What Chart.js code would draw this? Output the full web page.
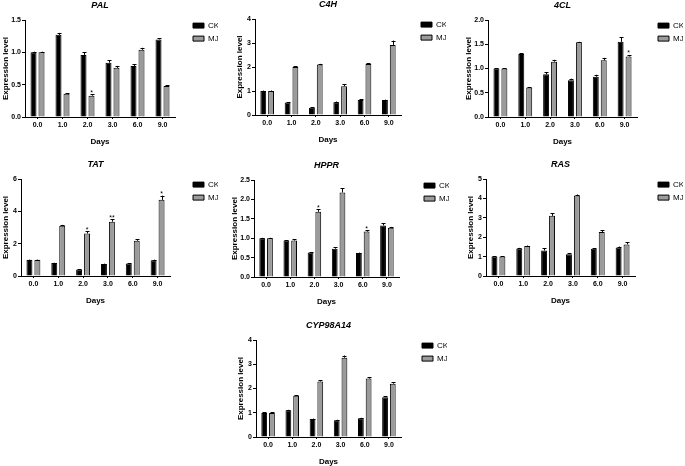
<!DOCTYPE html>
<html>
<head>
<meta charset="utf-8">
<script src="https://cdn.jsdelivr.net/npm/chart.js@4.4.1/dist/chart.umd.min.js"></script>
<style>
html,body{margin:0;padding:0;background:#fff;width:685px;height:466px;overflow:hidden;position:relative;}
canvas{position:absolute;}
</style>
</head>
<body>
<script>
// ---- data ----
const days = ['0.0', '1.0', '2.0', '3.0', '6.0', '9.0'];
const seriesNames = ['CK', 'MJ'];

const palCK = [1.00, 1.27, 0.96, 0.84, 0.79, 1.20];
const palCKErr = [0.01, 0.03, 0.04, 0.04, 0.03, 0.02];
const palMJ = [1.00, 0.36, 0.33, 0.76, 1.04, 0.48];
const palMJErr = [0.01, 0.01, 0.02, 0.03, 0.03, 0.01];
const palMJSig = ['', '', '*', '', '', ''];

const c4hCK = [1.00, 0.52, 0.30, 0.53, 0.63, 0.62];
const c4hCKErr = [0.02, 0.02, 0.02, 0.03, 0.02, 0.02];
const c4hMJ = [1.00, 2.00, 2.10, 1.20, 2.12, 2.92];
const c4hMJErr = [0.02, 0.03, 0.03, 0.09, 0.03, 0.18];
const c4hMJSig = ['', '', '', '', '', ''];

const cl4CK = [1.00, 1.30, 0.88, 0.76, 0.83, 1.55];
const cl4CKErr = [0.01, 0.02, 0.04, 0.03, 0.04, 0.09];
const cl4MJ = [1.00, 0.61, 1.14, 1.54, 1.17, 1.25];
const cl4MJErr = [0.01, 0.01, 0.04, 0.01, 0.05, 0.03];
const cl4MJSig = ['', '', '', '', '', '*'];

const tatCK = [1.00, 0.80, 0.40, 0.75, 0.77, 0.98];
const tatCKErr = [0.02, 0.02, 0.02, 0.02, 0.02, 0.03];
const tatMJ = [1.00, 3.11, 2.63, 3.36, 2.18, 4.71];
const tatMJErr = [0.02, 0.05, 0.13, 0.15, 0.09, 0.26];
const tatMJSig = ['', '', '*', '**', '', '*'];

const hpprCK = [1.00, 0.94, 0.63, 0.73, 0.62, 1.33];
const hpprCKErr = [0.01, 0.01, 0.01, 0.04, 0.01, 0.05];
const hpprMJ = [1.00, 0.94, 1.68, 2.18, 1.17, 1.27];
const hpprMJErr = [0.01, 0.04, 0.06, 0.11, 0.04, 0.02];
const hpprMJSig = ['', '', '*', '', '*', ''];

const rasCK = [1.00, 1.42, 1.31, 1.12, 1.40, 1.47];
const rasCKErr = [0.01, 0.03, 0.12, 0.05, 0.04, 0.05];
const rasMJ = [1.00, 1.54, 3.10, 4.15, 2.27, 1.63];
const rasMJErr = [0.02, 0.03, 0.13, 0.05, 0.08, 0.12];
const rasMJSig = ['', '', '', '', '', ''];

const cypCK = [0.99, 1.10, 0.74, 0.69, 0.77, 1.64];
const cypCKErr = [0.03, 0.02, 0.02, 0.02, 0.02, 0.05];
const cypMJ = [0.99, 1.70, 2.29, 3.27, 2.41, 2.20];
const cypMJErr = [0.03, 0.03, 0.04, 0.09, 0.05, 0.05];
const cypMJSig = ['', '', '', '', '', ''];

// y-axis settings per gene: [max, step, decimals]
const palAxis = [1.5, 0.5, 1];
const c4hAxis = [4, 1, 0];
const cl4Axis = [2.0, 0.5, 1];
const tatAxis = [6, 2, 0];
const hpprAxis = [2.5, 0.5, 1];
const rasAxis = [5, 1, 0];
const cypAxis = [4, 1, 0];

// ---- layout (plot area positions in page) ----
const panels = [
  {title: 'PAL', ck: palCK, ckErr: palCKErr, mj: palMJ, mjErr: palMJErr, sig: palMJSig, axis: palAxis,
   axisX: 25, top: 20, bottom: 117, right: 175, legendBox: 193, yW: 24},
  {title: 'C4H', ck: c4hCK, ckErr: c4hCKErr, mj: c4hMJ, mjErr: c4hMJErr, sig: c4hMJSig, axis: c4hAxis,
   axisX: 255, top: 19, bottom: 115, right: 401, legendBox: 421, yW: 20},
  {title: '4CL', ck: cl4CK, ckErr: cl4CKErr, mj: cl4MJ, mjErr: cl4MJErr, sig: cl4MJSig, axis: cl4Axis,
   axisX: 488, top: 20, bottom: 117, right: 637, legendBox: 658, yW: 24},
  {title: 'TAT', ck: tatCK, ckErr: tatCKErr, mj: tatMJ, mjErr: tatMJErr, sig: tatMJSig, axis: tatAxis,
   axisX: 21, top: 179, bottom: 276, right: 170, legendBox: 193, yW: 20},
  {title: 'HPPR', ck: hpprCK, ckErr: hpprCKErr, mj: hpprMJ, mjErr: hpprMJErr, sig: hpprMJSig, axis: hpprAxis,
   axisX: 254, top: 180, bottom: 277, right: 399, legendBox: 424, yW: 24},
  {title: 'RAS', ck: rasCK, ckErr: rasCKErr, mj: rasMJ, mjErr: rasMJErr, sig: rasMJSig, axis: rasAxis,
   axisX: 486, top: 179, bottom: 276, right: 635, legendBox: 658, yW: 20},
  {title: 'CYP98A14', ck: cypCK, ckErr: cypCKErr, mj: cypMJ, mjErr: cypMJErr, sig: cypMJSig, axis: cypAxis,
   axisX: 256, top: 340, bottom: 437, right: 401, legendBox: 422, yW: 20}
];

const FONT = "'Liberation Sans', Arial, sans-serif";
const TOP_H = 20, X_H = 30, PAD_R = 25, LEG_W = 30, LEG_PAD = 5;

const extrasPlugin = {
  id: 'extras',
  afterLayout(chart) {
    const o = chart.options.plugins.extras;
    const lg = chart.legend;
    if (lg) {
      const wantLeft = chart.chartArea.right + o.legendGap - LEG_PAD;
      const dx = wantLeft - lg.left;
      lg.left += dx; lg.right += dx;
      const wantTop = chart.chartArea.top + 5.6 - LEG_PAD - 4;
      const dy = wantTop - lg.top;
      lg.top += dy; lg.bottom += dy;
    }
  },
  afterDatasetsDraw(chart) {
    const o = chart.options.plugins.extras;
    const ctx = chart.ctx;
    const ys = chart.scales.y;
    ctx.save();
    ctx.strokeStyle = '#000';
    ctx.lineWidth = 1;
    chart.data.datasets.forEach((ds, di) => {
      const meta = chart.getDatasetMeta(di);
      const errs = o.errors[di];
      const sig = o.sigs[di];
      meta.data.forEach((el, i) => {
        const v = ds.data[i];
        const yTop = ys.getPixelForValue(v + errs[i]);
        const x = Math.round(el.x) + 0.5;
        ctx.beginPath();
        ctx.moveTo(x, el.y);
        ctx.lineTo(x, yTop);
        ctx.moveTo(x - 2, Math.round(yTop) + 0.5);
        ctx.lineTo(x + 2, Math.round(yTop) + 0.5);
        ctx.stroke();
        if (sig && sig[i]) {
          ctx.fillStyle = '#000';
          ctx.font = '7px ' + FONT;
          ctx.textAlign = 'center';
          ctx.textBaseline = 'alphabetic';
          ctx.fillText(sig[i], el.x, yTop + 0.5);
        }
      });
    });
    ctx.restore();
  }
};

panels.forEach(p => {
  const canvas = document.createElement('canvas');
  const left = p.axisX - p.yW;
  const top = p.top - TOP_H;
  const w = (p.right - left) + PAD_R + LEG_W;
  const h = TOP_H + (p.bottom - p.top) + X_H;
  canvas.width = w; canvas.height = h;
  canvas.style.left = left + 'px';
  canvas.style.top = top + 'px';
  canvas.style.width = w + 'px';
  canvas.style.height = h + 'px';
  document.body.appendChild(canvas);

  const [ymax, ystep, dec] = p.axis;
  const yW = p.yW;

  new Chart(canvas, {
    type: 'bar',
    data: {
      labels: days,
      datasets: [
        {label: seriesNames[0], data: p.ck, backgroundColor: '#000', borderColor: '#000', borderWidth: 1,
         categoryPercentage: 0.64, barPercentage: 0.75},
        {label: seriesNames[1], data: p.mj, backgroundColor: '#9b9b9b', borderColor: '#000', borderWidth: 1,
         categoryPercentage: 0.64, barPercentage: 0.75}
      ]
    },
    options: {
      responsive: false,
      animation: false,
      devicePixelRatio: 1,
      layout: {padding: {top: 0, left: 0, right: PAD_R, bottom: 0}},
      plugins: {
        title: {
          display: true, text: p.title, fullSize: false, color: '#000',
          font: {family: FONT, size: 9, weight: 'bold', style: 'italic'},
          padding: {top: 0, bottom: TOP_H - 10.8}
        },
        legend: {
          display: true, position: 'right', align: 'start', maxWidth: LEG_W,
          labels: {
            boxWidth: 11, boxHeight: 5, padding: LEG_PAD, color: '#000',
            font: {family: FONT, size: 8}
          }
        },
        tooltip: {enabled: false},
        extras: {
          errors: [p.ckErr, p.mjErr],
          sigs: [null, p.sig],
          legendGap: p.legendBox - p.right
        }
      },
      scales: {
        x: {
          grid: {display: true, drawOnChartArea: false, drawTicks: true, tickLength: 2, color: '#000', offset: false},
          border: {display: true, color: '#000', width: 1},
          ticks: {color: '#000', padding: 2, font: {family: FONT, size: 7, weight: 'bold'}},
          title: {display: true, text: 'Days', color: '#000', padding: {top: 0, bottom: 0},
                  font: {family: FONT, size: 8, weight: 'bold'}},
          afterFit(s) { s.height = X_H; }
        },
        y: {
          min: 0, max: ymax,
          grid: {display: true, drawOnChartArea: false, drawTicks: true, tickLength: 3, color: '#000'},
          border: {display: true, color: '#000', width: 1},
          ticks: {stepSize: ystep, color: '#000', padding: 1,
                  font: {family: FONT, size: 7, weight: 'bold'},
                  callback: v => Number(v).toFixed(dec)},
          title: {display: true, text: 'Expression level', color: '#000', padding: {top: 0, bottom: 0},
                  font: {family: FONT, size: 8, weight: 'bold'}},
          afterFit(s) { s.width = yW; }
        }
      }
    },
    plugins: [extrasPlugin]
  });
});
</script>
</body>
</html>
